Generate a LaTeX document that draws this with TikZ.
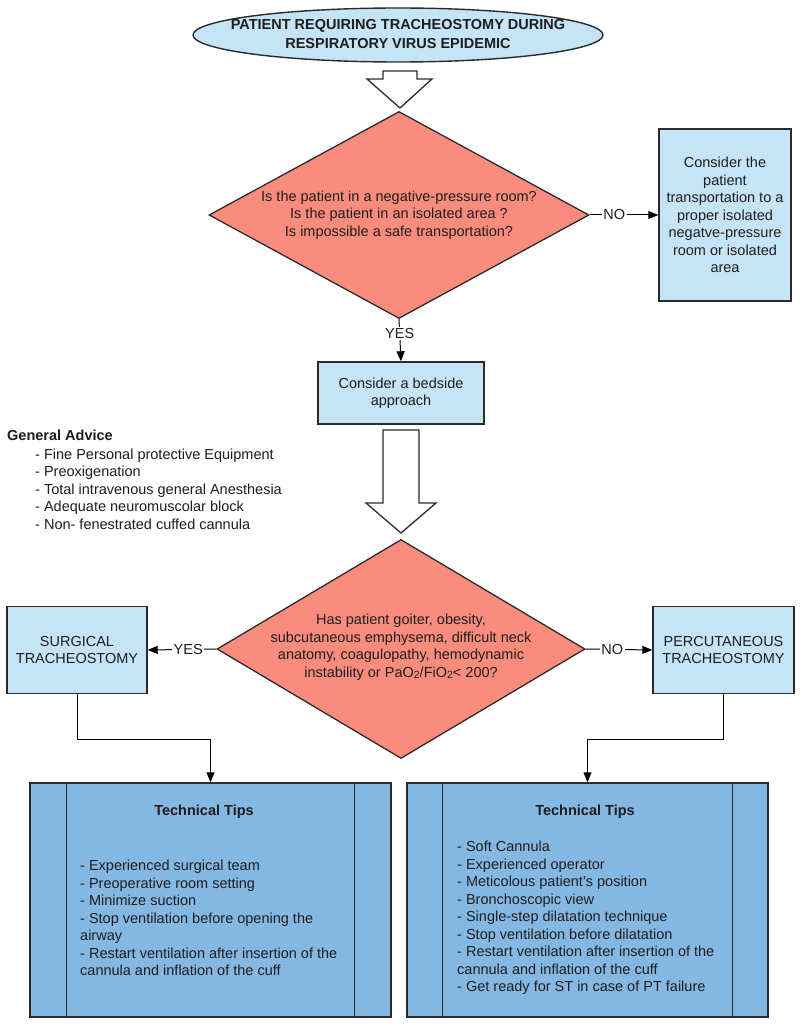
\documentclass[tikz,border=0pt]{standalone}
\usepackage{fontspec}
\setmainfont{Liberation Sans}
\usetikzlibrary{shapes.geometric, arrows.meta, calc}
\definecolor{lblue}{HTML}{C5E4F6}
\definecolor{salmon}{HTML}{FA8C7D}
\definecolor{tblue}{HTML}{85B7E3}
\definecolor{edgec}{HTML}{2B2B2B}
\definecolor{ink}{HTML}{1E1E1E}
\newcommand{\subtwo}{\raisebox{-0.25ex}{\fontsize{10.5}{10.5}\selectfont 2}}
\begin{document}
\begin{tikzpicture}[x=1pt,y=-1pt,
  every node/.style={font=\fontsize{14.5}{17.5}\selectfont, text=ink},
  box/.style={draw=edgec, line width=1.4pt, fill=lblue, rectangle, inner sep=0pt, align=center},
  tipbox/.style={draw=edgec, line width=1.4pt, fill=tblue, rectangle, inner sep=0pt},
  dia/.style={draw=edgec, line width=1.3pt, fill=salmon, diamond, inner sep=0pt},
  conn/.style={draw=black, line width=1pt, -{Triangle[length=10pt,width=8pt]}},
  lab/.style={fill=white, inner sep=1.5pt},
  blockarrow/.style={draw=edgec, line width=1.3pt, fill=white, line join=miter},
  plain/.style={inner sep=0pt, align=left}]
\useasboundingbox (0,0) rectangle (800,1024);
\fill[white] (0,0) rectangle (800,1024);

% top ellipse
\node[draw=edgec, line width=1.4pt, fill=lblue, ellipse, minimum width=410pt, minimum height=54pt, inner sep=0pt] (top) at (398,35) {};
\node[align=center, inner sep=0pt, font=\fontsize{14.5}{18.5}\selectfont\bfseries] (toptext) at (398,34) {PATIENT REQUIRING TRACHEOSTOMY DURING\\RESPIRATORY VIRUS EPIDEMIC};

% block arrow 1
\draw[blockarrow] (383,71) -- (417,71) -- (417,79) -- (432,79) -- (400,108) -- (367,79) -- (383,79) -- cycle;

% diamond 1
\node[dia, minimum width=380pt, minimum height=207pt] (d1) at (399,215) {};
\node[align=center, inner sep=0pt] (d1t) at (399,215) {Is the patient in a negative-pressure room?\\Is the patient in an isolated area ?\\Is impossible a safe transportation?};

% right box
\node[box, minimum width=132pt, minimum height=172pt] (r1) at (725,215) {Consider the\\patient\\transportation to a\\proper isolated\\negatve-pressure\\room or isolated\\area};

% bedside box
\node[box, minimum width=166pt, minimum height=62pt] (bed) at (401,393) {Consider a bedside\\approach};

% connectors 1
\draw[conn] (d1.east) -- node[lab, pos=0.36]{NO} (r1.west);
\draw[conn] (d1.south) -- node[lab, pos=0.34]{YES} (bed.north);

% general advice
\node[plain, anchor=west, font=\fontsize{14.5}{17.5}\selectfont\bfseries] (ga) at (7,435) {General Advice};
\node[plain, anchor=west] (galist) at (35,489) {- Fine Personal protective Equipment\\- Preoxigenation\\- Total intravenous general Anesthesia\\- Adequate neuromuscolar block\\- Non- fenestrated cuffed cannula};

% block arrow 2
\draw[blockarrow] (383,430) -- (419,430) -- (419,503) -- (436,503) -- (401,533) -- (366,503) -- (383,503) -- cycle;

% diamond 2
\node[dia, minimum width=368pt, minimum height=219pt] (d2) at (401,649) {};
\node[align=center, inner sep=0pt] (d2t) at (401,647) {Has patient goiter, obesity,\\subcutaneous emphysema, difficult neck\\anatomy, coagulopathy, hemodynamic\\instability or PaO\subtwo/FiO\subtwo< 200?};

% side boxes
\node[box, minimum width=140pt, minimum height=87pt] (st) at (77,650) {SURGICAL\\TRACHEOSTOMY};
\node[box, minimum width=141pt, minimum height=87pt] (pt) at (723.5,650) {PERCUTANEOUS\\TRACHEOSTOMY};

\draw[conn] (d2.west) -- node[lab, pos=0.41]{YES} (st.east);
\draw[conn] (d2.east) -- node[lab, pos=0.40]{NO} (pt.west);

% technical tips boxes
\node[tipbox, minimum width=361pt, minimum height=234pt] (tt1) at (210.5,900) {};
\node[tipbox, minimum width=361pt, minimum height=234pt] (tt2) at (587.5,900) {};
\draw[edgec, line width=1.3pt] ($(tt1.north west)+(37,0)$) -- ($(tt1.south west)+(37,0)$);
\draw[edgec, line width=1.3pt] ($(tt1.north east)+(-37,0)$) -- ($(tt1.south east)+(-37,0)$);
\draw[edgec, line width=1.3pt] ($(tt2.north west)+(36,0)$) -- ($(tt2.south west)+(36,0)$);
\draw[edgec, line width=1.3pt] ($(tt2.north east)+(-36,0)$) -- ($(tt2.south east)+(-36,0)$);

\node[inner sep=0pt, font=\fontsize{14.5}{17.5}\selectfont\bfseries] (tt1t) at (204,812) {Technical Tips};
\node[inner sep=0pt, font=\fontsize{14.5}{17.5}\selectfont\bfseries] (tt2t) at (585,812) {Technical Tips};

\node[plain, anchor=west] (tt1l) at (80,918) {- Experienced surgical team\\- Preoperative room setting\\- Minimize suction\\- Stop ventilation before opening the\\airway\\- Restart ventilation after insertion of the\\cannula and inflation of the cuff};
\node[plain, anchor=west] (tt2l) at (457,918) {- Soft Cannula\\- Experienced operator\\- Meticolous patient's position\\- Bronchoscopic view\\- Single-step dilatation technique\\- Stop ventilation before dilatation\\- Restart ventilation after insertion of the\\cannula and inflation of the cuff\\- Get ready for ST in case of PT failure};

% elbow connectors
\draw[conn] (st.south) -- ++(0,45) -| (tt1.north);
\draw[conn] (pt.south) -- ++(0,45) -| (tt2.north);
\end{tikzpicture}
\end{document}
